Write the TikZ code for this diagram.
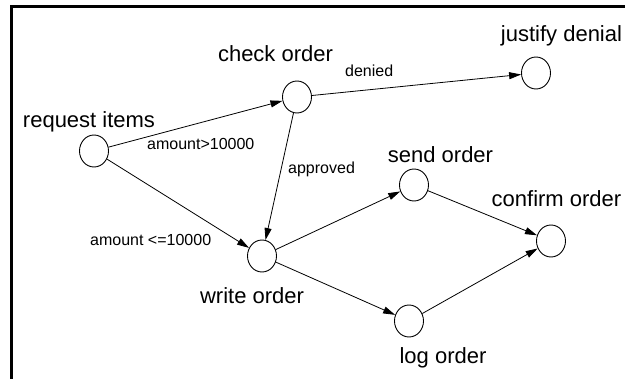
\documentclass[tikz,border=0pt]{standalone}
\usepackage{fontspec}
\setmainfont{Liberation Sans}
\usetikzlibrary{arrows.meta,positioning,shapes.geometric}
\tikzset{
  st/.style={draw, ellipse, minimum width=29pt, minimum height=32pt,
             inner sep=0pt, line width=0.9pt},
  lbl/.style={font=\fontsize{22}{26}\selectfont, inner sep=0pt},
  elbl/.style={font=\fontsize{16}{19}\selectfont, inner sep=0pt, anchor=base west},
  ar/.style={-{Triangle[length=12pt,width=7pt]}, line width=0.8pt},
  frame/.style={line width=3pt},
}
\begin{document}
\begin{tikzpicture}[x=1pt, y=-1pt]
  \useasboundingbox (0,0) rectangle (625,379);
  \draw[frame] (11,379) -- (11,6.5) -- (625,6.5);
  % states
  \node[st] (req) at (94,151) {};
  \node[st] (chk) at (297,97) {};
  \node[st] (jus) at (536,73) {};
  \node[st] (snd) at (414,185) {};
  \node[st] (wrt) at (262,256) {};
  \node[st] (cnf) at (551,241) {};
  \node[st] (lg) at (409,321) {};
  % state names
  \node[lbl, above=7pt of req, xshift=-5pt, anchor=base] (reqlbl) {request items};
  \node[lbl, above=19pt of chk, xshift=-21.5pt, anchor=base] (chklbl) {check order};
  \node[lbl, above=15pt of jus, xshift=25.5pt, anchor=base] (juslbl) {justify denial};
  \node[lbl, above=6.5pt of snd, xshift=26.5pt, anchor=base] (sndlbl) {send order};
  \node[lbl, above=18pt of cnf, xshift=5.5pt, anchor=base] (cnflbl) {confirm order};
  \node[lbl, below=30.7pt of wrt, xshift=-10pt, anchor=base] (wrtlbl) {write order};
  \node[lbl, below=26pt of lg, xshift=34pt, anchor=base] (lglbl) {log order};
  % conditions
  \node[elbl] (gt) at (147,150) {amount>10000};
  \node[elbl] (den) at (345,77) {denied};
  \node[elbl] (app) at (288,174) {approved};
  \node[elbl] (le) at (90,246) {amount <=10000};
  % transitions
  \draw[ar] (req) -- (chk);
  \draw[ar] (req) -- (wrt);
  \draw[ar] (chk) -- (jus);
  \draw[ar] (chk) -- (wrt);
  \draw[ar] (wrt) -- (snd);
  \draw[ar] (wrt) -- (lg);
  \draw[ar] (snd) -- (cnf);
  \draw[ar] (lg) -- (cnf);
\end{tikzpicture}
\end{document}
